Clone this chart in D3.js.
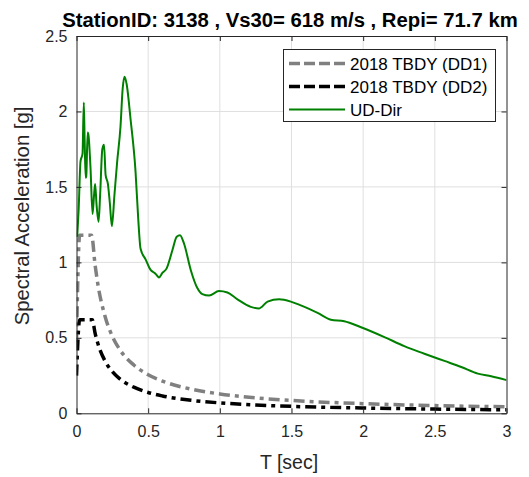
<!DOCTYPE html>
<html><head><meta charset="utf-8">
<script src="https://cdn.jsdelivr.net/npm/d3@7"></script>
<style>body{margin:0;background:#fff}svg{display:block;font-family:"Liberation Sans",Arial,sans-serif}</style>
</head><body><svg id="c" width="529" height="477"></svg>
<script>
const titleText = "StationID: 3138 , Vs30= 618 m/s , Repi= 71.7 km";
const xTicks = [0, 0.5, 1, 1.5, 2, 2.5, 3];
const yTicks = [0, 0.5, 1, 1.5, 2, 2.5];
const seriesNames = ["2018 TBDY (DD1)", "2018 TBDY (DD2)", "UD-Dir"];

const periodsDD1 = [0, 0.022, 0.105, 0.13, 0.15, 0.2, 0.25, 0.3, 0.4, 0.5, 0.6, 0.8, 1.0, 1.25, 1.5, 2.0, 2.5, 3.0];
const saDD1 = [0.47, 1.18, 1.18, 0.98, 0.85, 0.64, 0.51, 0.425, 0.32, 0.255, 0.213, 0.16, 0.128, 0.102, 0.085, 0.064, 0.051, 0.043];
const periodsDD2 = [0, 0.022, 0.11, 0.13, 0.15, 0.2, 0.25, 0.3, 0.4, 0.5, 0.6, 0.8, 1.0, 1.25, 1.5, 2.0, 2.5, 3.0];
const saDD2 = [0.25, 0.62, 0.62, 0.53, 0.46, 0.345, 0.276, 0.23, 0.173, 0.138, 0.115, 0.086, 0.069, 0.055, 0.046, 0.035, 0.028, 0.023];
const periodsUD = [0.005,0.015,0.028,0.042,0.051,0.057,0.064,0.068,0.078,0.084,0.098,0.112,0.122,0.130,0.140,0.154,0.165,0.180,0.192,0.203,0.219,0.232,0.247,0.265,0.284,0.307,0.322,0.335,0.350,0.377,0.412,0.430,0.447,0.482,0.517,0.545,0.560,0.575,0.599,0.629,0.669,0.699,0.722,0.750,0.797,0.843,0.878,0.925,0.994,1.053,1.123,1.216,1.274,1.333,1.414,1.495,1.565,1.682,1.775,1.868,1.985,2.148,2.287,2.427,2.567,2.684,2.800,2.893,3.0];
const saUD = [1.17,1.35,1.67,1.72,2.06,1.80,1.56,1.57,1.86,1.84,1.62,1.32,1.44,1.52,1.38,1.27,1.45,1.75,1.78,1.58,1.52,1.40,1.24,1.45,1.67,1.90,2.15,2.23,2.18,1.95,1.60,1.30,1.09,1.02,0.95,0.93,0.915,0.90,0.93,0.96,1.08,1.17,1.18,1.125,0.95,0.83,0.79,0.78,0.81,0.80,0.755,0.705,0.695,0.74,0.755,0.74,0.715,0.665,0.62,0.61,0.57,0.505,0.445,0.395,0.347,0.307,0.263,0.245,0.22];

const L = 76.5, R = 506.5, T = 36, B = 413.3;
const svg = d3.select("#c");
const x = d3.scaleLinear().domain([0, 3]).range([L, R]);
const y = d3.scaleLinear().domain([0, 2.5]).range([B, T]);
const axC = "#262626";

// grid
svg.append("g").selectAll("line").data(xTicks.slice(1, -1)).join("line")
  .attr("x1", d => x(d)).attr("x2", d => x(d)).attr("y1", T).attr("y2", B)
  .attr("stroke", "#dfdfdf").attr("stroke-width", 1);
svg.append("g").selectAll("line").data(yTicks.slice(1, -1)).join("line")
  .attr("y1", d => y(d)).attr("y2", d => y(d)).attr("x1", L).attr("x2", R)
  .attr("stroke", "#dfdfdf").attr("stroke-width", 1);

// clip
svg.append("clipPath").attr("id", "clip").append("rect")
  .attr("x", L).attr("y", T).attr("width", R - L).attr("height", B - T);
const plot = svg.append("g").attr("clip-path", "url(#clip)");
const line = d3.line().x(d => x(d[0])).y(d => y(d[1]));
const zip = (a, b) => a.map((v, i) => [v, b[i]]);

plot.append("path").datum(zip(periodsDD1, saDD1))
  .attr("d", line.curve(d3.curveMonotoneX)).attr("fill", "none")
  .attr("stroke", "#808080").attr("stroke-width", 3.5).attr("stroke-dasharray", "11,5,4,5");
plot.append("path").datum(zip(periodsDD2, saDD2))
  .attr("d", line.curve(d3.curveMonotoneX)).attr("fill", "none")
  .attr("stroke", "#000").attr("stroke-width", 3.5).attr("stroke-dasharray", "11,5,4,5");
plot.append("path").datum(zip(periodsUD, saUD))
  .attr("d", line.curve(d3.curveMonotoneX)).attr("fill", "none")
  .attr("stroke", "#008000").attr("stroke-width", 2).attr("stroke-linejoin", "round");

// axes (ticks inside, box)
const ax = svg.append("g");
const xb = ax.append("g").attr("transform", `translate(0,${B})`)
  .call(d3.axisBottom(x).tickValues(xTicks).tickSizeInner(-5).tickSizeOuter(0).tickPadding(12).tickFormat(d3.format("")));
const xt = ax.append("g").attr("transform", `translate(0,${T})`)
  .call(d3.axisTop(x).tickValues(xTicks).tickSizeInner(-5).tickSizeOuter(0).tickFormat(""));
const yl = ax.append("g").attr("transform", `translate(${L},0)`)
  .call(d3.axisLeft(y).tickValues(yTicks).tickSizeInner(-5).tickSizeOuter(0).tickPadding(9).tickFormat(d3.format("")));
const yr = ax.append("g").attr("transform", `translate(${R},0)`)
  .call(d3.axisRight(y).tickValues(yTicks).tickSizeInner(-5).tickSizeOuter(0).tickFormat(""));
[xb, xt, yl, yr].forEach(g => {
  g.select(".domain").attr("stroke", axC).attr("stroke-width", 1);
  g.selectAll(".tick line").attr("stroke", axC);
  g.selectAll("text").attr("fill", axC).attr("font-size", 16).attr("font-family", "Liberation Sans, Arial, sans-serif");
});

// labels
svg.append("text").attr("x", 290).attr("y", 27).attr("text-anchor", "middle")
  .attr("font-size", 20.3).attr("font-weight", "bold").attr("fill", "#000").text(titleText);
svg.append("text").attr("x", 289).attr("y", 469).attr("text-anchor", "middle")
  .attr("font-size", 19.5).attr("fill", axC).text("T [sec]");
svg.append("text").attr("transform", `translate(29,216) rotate(-90)`).attr("text-anchor", "middle")
  .attr("font-size", 20.3).attr("fill", axC).text("Spectral Acceleration [g]");

// legend
const lg = svg.append("g");
lg.append("rect").attr("x", 283.5).attr("y", 49.5).attr("width", 212).attr("height", 72)
  .attr("fill", "#fff").attr("stroke", axC).attr("stroke-width", 1);
const legStyles = [
  {c: "#808080", w: 3.5, dash: "11,4"},
  {c: "#000", w: 3.5, dash: "11,4"},
  {c: "#008000", w: 2, dash: null}
];
seriesNames.forEach((n, i) => {
  const yy = 63.5 + i * 23;
  const s = legStyles[i];
  lg.append("line").attr("x1", 289).attr("x2", 345).attr("y1", yy).attr("y2", yy)
    .attr("stroke", s.c).attr("stroke-width", s.w).attr("stroke-dasharray", s.dash);
  lg.append("text").attr("x", 350).attr("y", yy + 6).attr("font-size", 17).attr("fill", "#000").text(n);
});
</script></body></html>
